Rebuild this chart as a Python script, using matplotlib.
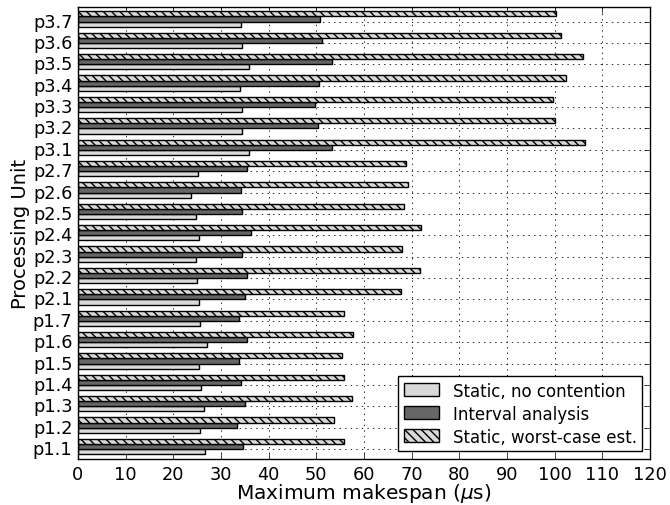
import numpy as np
import matplotlib
matplotlib.use("Agg")
import matplotlib.pyplot as plt

# Processing units, bottom to top
units = ["p1.1", "p1.2", "p1.3", "p1.4", "p1.5", "p1.6", "p1.7",
         "p2.1", "p2.2", "p2.3", "p2.4", "p2.5", "p2.6", "p2.7",
         "p3.1", "p3.2", "p3.3", "p3.4", "p3.5", "p3.6", "p3.7"]

# Maximum makespan (us)
static_nc = [26.6, 25.6, 26.5, 25.8, 25.4, 27.1, 25.6,
             25.3, 25.0, 24.7, 25.3, 24.7, 23.8, 25.1,
             35.8, 34.5, 34.4, 34.0, 35.8, 34.4, 34.2]
interval = [34.6, 33.4, 35.1, 34.3, 33.8, 35.5, 33.8,
            35.1, 35.5, 34.4, 36.2, 34.5, 34.3, 35.5,
            53.3, 50.4, 49.8, 50.6, 53.2, 51.1, 50.7]
worst = [55.8, 53.7, 57.4, 55.8, 55.4, 57.8, 55.8,
         67.7, 71.7, 67.9, 72.0, 68.4, 69.3, 68.9,
         106.4, 100.1, 99.6, 102.4, 106.0, 101.4, 100.3]

labels = ["Static, no contention", "Interval analysis", "Static, worst-case est."]

plt.style.use("classic")
plt.rcParams["mathtext.fontset"] = "dejavusans"
plt.rcParams["savefig.facecolor"] = "white"
plt.rcParams["hatch.linewidth"] = 1.0

fig = plt.figure(figsize=(6.7, 5.06), dpi=100, facecolor="white")
ax = fig.add_axes([0.1164, 0.091, 0.8536, 0.894])

ind = np.arange(len(units))
w = 0.24
ax.barh(ind, static_nc, w, align="edge", color="0.85", edgecolor="k", label=labels[0])
ax.barh(ind + w, interval, w, align="edge", color="0.4", edgecolor="k", label=labels[1])
ax.barh(ind + 2 * w, worst, w, align="edge", color="0.85", edgecolor="k",
        hatch="\\\\\\\\", label=labels[2])

ax.set_yticks(ind + w)
ax.set_yticklabels(units)
ax.set_ylim(-0.22, len(units) - 1 + 3 * w + 0.22)
ax.set_xlim(0, 120)
ax.set_xticks(np.arange(0, 121, 10))
ax.tick_params(labelsize=12.8)
ax.grid(True, color="k", linestyle=":", linewidth=0.6)
ax.set_axisbelow(True)

ax.set_xlabel(r"Maximum makespan ($\mu$s)", fontsize=14.5, labelpad=-1)
ax.set_ylabel("Processing Unit", fontsize=14, labelpad=2)

ax.legend(loc="lower right", fontsize=12, borderaxespad=0.45, borderpad=0.35,
          labelspacing=0.3, handlelength=2.1, handleheight=0.8,
          handletextpad=0.8, fancybox=False)

fig.savefig("out.png", dpi=100)
